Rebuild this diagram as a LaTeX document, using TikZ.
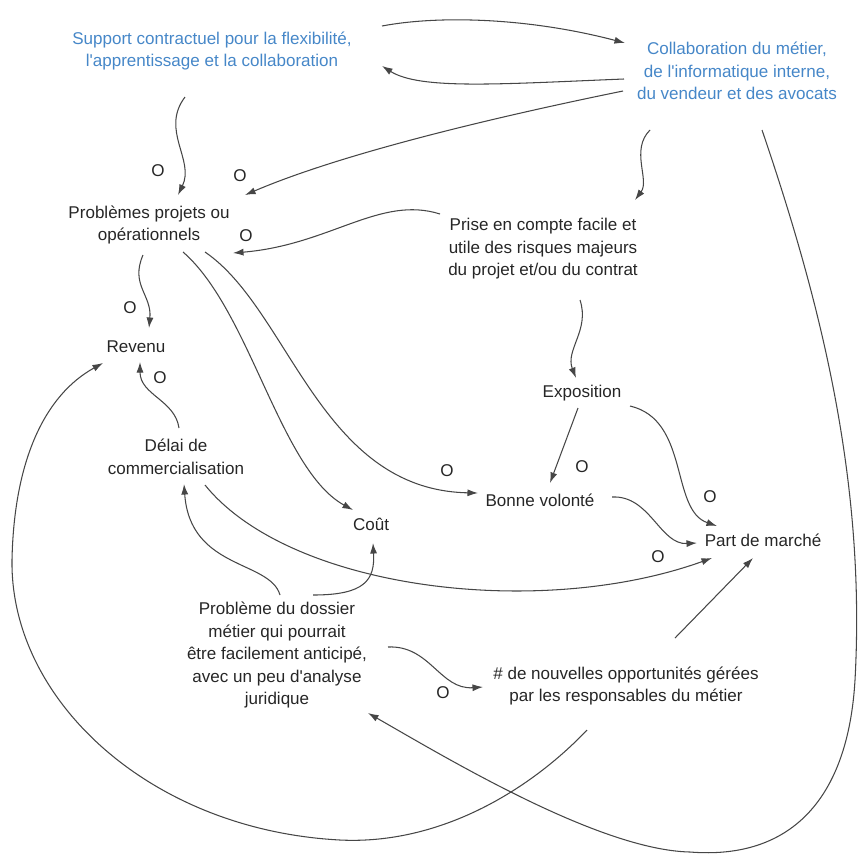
\documentclass[tikz,border=0pt]{standalone}
\usepackage{fontspec}
\setmainfont{Liberation Sans}
\usetikzlibrary{arrows.meta,calc}
\definecolor{actorblue}{RGB}{70,135,200}
\definecolor{arcgray}{RGB}{70,70,70}

\begin{document}
\begin{tikzpicture}[x=0.02cm, y=-0.02cm, line width=0.6pt,
  var/.style={align=center, text=black!85, font=\fontsize{9.7}{12.8}\selectfont, inner sep=0pt},
  actor/.style={var, text=actorblue},
  pol/.style={text=black!85, font=\fontsize{9.7}{12}\selectfont, inner sep=0pt},
  arc/.style={draw=arcgray, -{Latex[length=6pt,width=4pt]}}]
\useasboundingbox (0,0) rectangle (858,853);
\begin{scope}
\node[actor] (sup) at (212,51) {Support contractuel pour la flexibilité,\\l\textquotesingle apprentissage et la collaboration};
\node[actor] (col) at (737,71) {Collaboration du métier,\\de l\textquotesingle informatique interne,\\du vendeur et des avocats};
\node[var] (P) at (149,225) {Problèmes projets ou\\opérationnels};
\node[var] (R) at (543,249) {Prise en compte facile et\\utile des risques majeurs\\du projet et/ou du contrat};
\node[var] (rev) at (136,347) {Revenu};
\node[var] (D) at (176,457) {Délai de\\commercialisation};
\node[var] (C) at (371,524) {Coût};
\node[var] (E) at (582,393) {Exposition};
\node[var] (B) at (540,500) {Bonne volonté};
\node[var] (M) at (763,540) {Part de marché};
\node[var] (PD) at (277,655) {Problème du dossier\\métier qui pourrait\\être facilement anticipé,\\avec un peu d\textquotesingle analyse\\juridique};
\node[var] (N) at (626,686) {\# de nouvelles opportunités gérées\\par les responsables du métier};
\end{scope}
\begin{scope}[every node/.style={pol}]
\node (o1) at (158,171) {O};
\node (o2) at (240,176) {O};
\node (o3) at (246,236) {O};
\node (o4) at (130,308) {O};
\node (o5) at (160,378) {O};
\node (o6) at (447,471) {O};
\node (o7) at (582,467) {O};
\node (o8) at (710,497) {O};
\node (o9) at (658,557) {O};
\node (o10) at (443,693) {O};
\end{scope}
\begin{scope}
\draw[arc] ($(sup)+(170,-25)$) .. controls (440,15) and (530,18) .. ($(col)+(-112,-28)$);
\draw[arc] ($(col)+(-113,8)$) .. controls (500,84) and (420,90) .. ($(sup)+(170,15)$);
\draw[arc] ($(col)+(-114,20)$) .. controls (520,112) and (350,150) .. ($(P)+(96,-30)$);
\draw[arc] ($(sup)+(-27,46)$) .. controls (160,130) and (195,160) .. ($(P)+(29,-30)$);
\draw[arc] ($(col)+(-87,59)$) .. controls (630,150) and (650,180) .. ($(R)+(92,-49)$);
\draw[arc] ($(col)+(25,59)$) .. controls (820,300) and (866,480) .. (855,680)
  .. controls (848,800) and (790,860) .. (690,852)
  .. controls (600,850) and (450,760) .. ($(PD)+(91,58)$);
\draw[arc] ($(N)+(-39,44)$) .. controls (530,790) and (440,845) .. (340,840)
  .. controls (150,830) and (10,700) .. (12,560)
  .. controls (14,460) and (45,395) .. ($(rev)+(-33,16)$);
\draw[arc] ($(P)+(-6,30)$) .. controls (130,285) and (152,295) .. ($(rev)+(13,-19)$);
\draw[arc] ($(R)+(-103,-35)$) .. controls (380,195) and (330,245) .. ($(P)+(84,28)$);
\draw[arc] ($(P)+(34,27)$) .. controls (250,310) and (280,470) .. ($(C)+(-18,-14)$);
\draw[arc] ($(P)+(56,27)$) .. controls (290,310) and (320,490) .. ($(B)+(-62,-7)$);
\draw[arc] ($(R)+(37,51)$) .. controls (590,330) and (565,350) .. ($(E)+(-6,-15)$);
\draw[arc] ($(E)+(-4,15)$) -- ($(B)+(10,-17)$);
\draw[arc] ($(E)+(48,13)$) .. controls (690,420) and (670,510) .. ($(M)+(-46,-14)$);
\draw[arc] ($(B)+(72,-3)$) .. controls (650,495) and (660,545) .. ($(M)+(-66,3)$);
\draw[arc] ($(D)+(3,-29)$) .. controls (175,400) and (140,395) .. ($(rev)+(4,15)$);
\draw[arc] ($(D)+(29,28)$) .. controls (290,590) and (540,620) .. ($(M)+(-51,18)$);
\draw[arc] ($(PD)+(3,-60)$) .. controls (270,560) and (190,570) .. ($(D)+(8,27)$);
\draw[arc] ($(PD)+(36,-60)$) .. controls (365,595) and (375,580) .. ($(C)+(2,19)$);
\draw[arc] ($(PD)+(111,-8)$) .. controls (430,645) and (440,690) .. ($(N)+(-143,1)$);
\draw[arc] ($(N)+(49,-48)$) -- ($(M)+(-10,18)$);
\end{scope}
\end{tikzpicture}
\end{document}
